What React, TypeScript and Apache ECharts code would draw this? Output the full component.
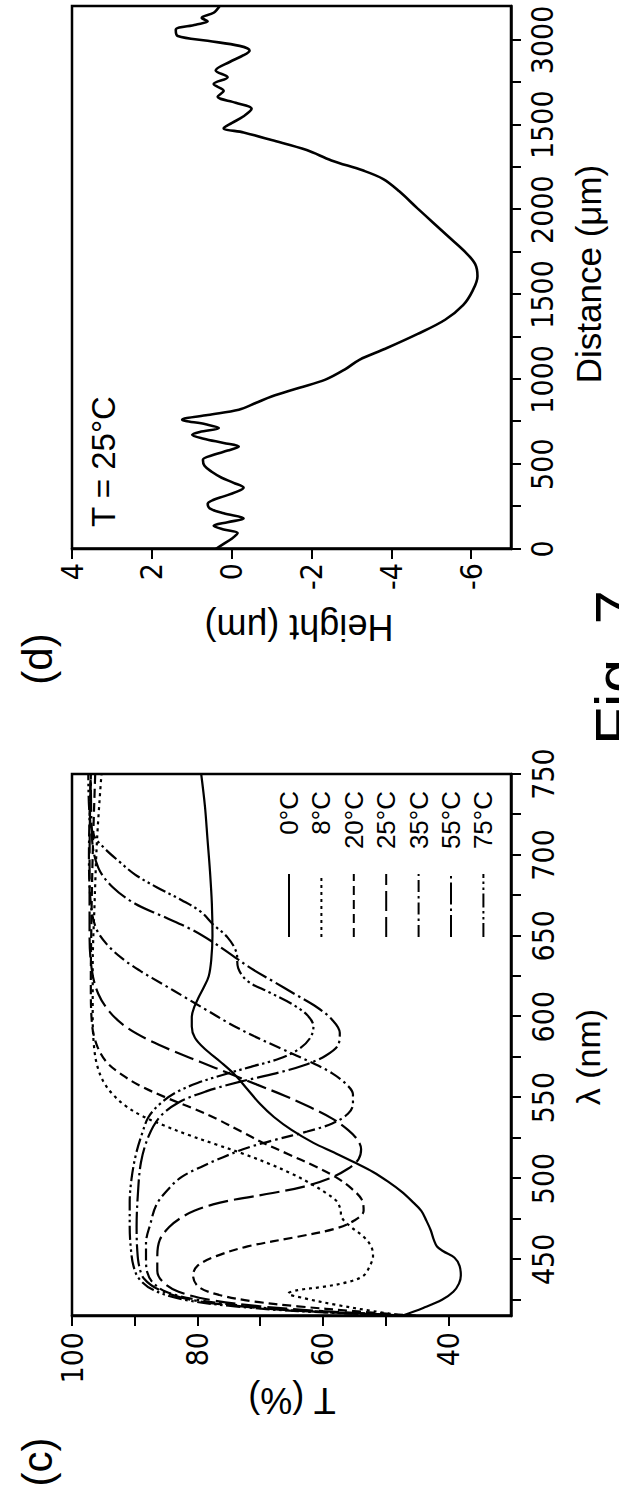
import React, { useEffect, useRef } from "react";
import * as echarts from "echarts";

// ---------- Panel (c): transmission spectra ----------
const legendNames = ["0°C", "8°C", "20°C", "25°C", "35°C", "55°C", "75°C"];

const wl0 = [415, 420, 425, 430, 435, 440, 446, 451, 455, 458, 462, 468, 474, 480, 486, 492, 498, 504, 510, 516, 522, 530, 538, 546, 555, 564, 572, 580, 587, 594, 600, 606, 612, 618, 625, 635, 650, 670, 690, 710, 730, 750];
const t0 = [47.5, 44, 41, 39.2, 38.3, 38, 38.2, 39, 40.8, 41.8, 42.3, 42.8, 43.5, 44.3, 45.8, 47.5, 49.6, 52, 55, 58.2, 61.5, 65, 67.8, 70, 72, 74, 76.3, 78.8, 80.4, 80.9, 80.9, 80.5, 79.8, 79, 78.2, 77.8, 77.6, 77.7, 78, 78.4, 78.8, 79.4];

const wl8 = [415, 418, 422, 426, 429, 431, 433, 436, 440, 446, 452, 458, 464, 470, 476, 481, 486, 491, 497, 503, 509, 515, 521, 527, 533, 539, 545, 552, 560, 570, 582, 600, 630, 670, 710, 750];
const t8 = [47, 52, 58, 63, 65.5, 64, 60, 56, 53.5, 52.5, 52, 52.3, 53.5, 55.5, 57, 57.2, 57.8, 59.5, 62, 65, 68.5, 72.5, 77, 81.5, 85.5, 89, 91.5, 93.5, 95, 96, 96.5, 96.7, 96.7, 96.4, 96, 95.3];

const wl20 = [415, 418, 421, 424, 428, 433, 440, 446, 452, 458, 464, 469, 474, 480, 487, 494, 501, 508, 515, 522, 529, 536, 543, 550, 557, 564, 572, 582, 595, 620, 660, 700, 750];
const t20 = [45, 55, 64, 71, 76.5, 79.8, 80.7, 80, 77, 72, 64, 58, 55, 53.5, 53.8, 55.5, 58, 61.5, 65.5, 69.5, 73, 76.5, 80.5, 85, 89, 92, 94.5, 96, 96.8, 97, 96.9, 96.7, 96.3];

const wl25 = [415, 418, 421, 425, 430, 436, 443, 452, 462, 470, 476, 480, 484, 487, 491, 495, 500, 506, 512, 518, 524, 530, 537, 544, 551, 558, 565, 572, 579, 586, 594, 603, 614, 628, 650, 700, 750];
const t25 = [45, 60, 70, 78, 83, 85.5, 86.4, 86.4, 86, 84.5, 82.5, 80.5, 77.5, 74, 68, 63, 59, 56, 54.3, 53.9, 54.5, 56, 58.5, 62, 66, 70.5, 75, 79.5, 84, 88, 91.5, 94, 95.8, 96.8, 97.2, 97.2, 97];

const wl35 = [415, 418, 421, 425, 430, 436, 442, 450, 460, 472, 484, 494, 501, 507, 513, 519, 524, 529, 534, 540, 546, 552, 558, 565, 572, 580, 588, 596, 604, 612, 620, 628, 636, 645, 655, 670, 700, 750];
const t35 = [45, 62, 72, 80, 85, 87.2, 88, 88.2, 88.2, 87.5, 86.5, 84.5, 82.5, 79.5, 76, 72, 67.5, 62.5, 58.5, 56, 55.2, 55.2, 56.2, 58.5, 62, 66.5, 71, 75, 78.5, 82, 85.5, 89, 92, 94.5, 96.2, 97, 97.3, 97];

const wl55 = [415, 418, 421, 425, 431, 438, 446, 456, 470, 490, 510, 526, 538, 547, 554, 560, 565, 570, 576, 583, 590, 598, 606, 614, 622, 630, 638, 646, 654, 662, 670, 680, 692, 710, 750];
const t55 = [45, 63, 73, 81, 86, 88.5, 89.3, 89.6, 89.7, 89.5, 89, 87.8, 86, 83, 78.5, 73, 67.5, 63, 59.5, 57.5, 57.3, 58.5, 61, 64.5, 68, 71.5, 74.5, 77.5, 81, 85.5, 90, 93.5, 95.8, 96.8, 97];

const wl75 = [415, 418, 421, 425, 431, 438, 446, 456, 470, 485, 500, 515, 528, 538, 546, 553, 559, 564, 569, 574, 580, 587, 594, 601, 608, 615, 622, 630, 640, 649, 657, 665, 672, 680, 688, 696, 704, 712, 725, 750];
const t75 = [45, 64, 74, 82, 87, 89.3, 90.2, 90.6, 90.8, 90.8, 90.5, 89.8, 88.8, 87.8, 86, 83.5, 80, 76, 71.5, 67, 63.8, 62, 61.5, 62.5, 65, 68.5, 72, 73.5, 73.8, 75.2, 77.5, 79.5, 82.5, 86.5, 90, 92.5, 94.8, 96.5, 97.2, 97.4];

const lambdaTicks = [425, 450, 475, 500, 525, 550, 575, 600, 625, 650, 675, 700, 725, 750];
const lambdaLabels = [450, 500, 550, 600, 650, 700, 750];
const tTicks = [40, 50, 60, 70, 80, 90, 100];
const tLabels = [40, 60, 80, 100];

// ---------- Panel (d): height profile ----------
const distance = [0, 30, 60, 94, 115, 137, 158, 180, 210, 240, 266, 290, 310, 335, 361, 390, 420, 455, 490, 526, 555, 580, 604, 625, 650, 673, 690, 713, 735, 762, 790, 821, 860, 899, 950, 998, 1060, 1115, 1180, 1266, 1351, 1437, 1523, 1608, 1680, 1751, 1837, 1923, 2009, 2108, 2180, 2230, 2290, 2351, 2410, 2455, 2480, 2510, 2550, 2594, 2630, 2666, 2700, 2740, 2780, 2820, 2870, 2910, 2937, 2965, 2995, 3023, 3060, 3090, 3110, 3130, 3160, 3200];
const height = [0.4, 0.2, 0.0, -0.15, 0.2, 0.45, 0.1, -0.3, 0.2, 0.55, 0.6, 0.45, 0.2, -0.1, -0.3, -0.05, 0.25, 0.5, 0.68, 0.72, 0.45, 0.1, -0.18, 0.2, 0.7, 0.99, 0.8, 0.32, 0.65, 1.24, 0.6, -0.18, -0.6, -1.0, -1.7, -2.35, -2.85, -3.2, -3.85, -4.65, -5.35, -5.8, -6.04, -6.16, -6.1, -5.85, -5.45, -5.05, -4.65, -4.2, -3.8, -3.3, -2.5, -1.88, -1.0, -0.3, 0.2, 0.0, -0.3, -0.5, -0.1, 0.35, 0.2, 0.45, 0.1, 0.4, 0.05, -0.3, -0.45, -0.2, 0.6, 1.35, 1.4, 0.9, 0.6, 0.75, 0.45, 0.3];

const distTicks = [0, 250, 500, 750, 1000, 1250, 1500, 1750, 2000, 2250, 2500, 2750, 3000];
const distLabelValues = [0, 500, 1000, 1500, 2000, 2500, 3000];
const distLabelTexts = ["0", "500", "1000", "1500", "2000", "1500", "3000"];
const heightTicks = [-6, -4, -2, 0, 2, 4];

const mainFont = "'Liberation Sans', Arial, Helvetica, sans-serif";
const tickFont = "'Liberation Sans Narrow', 'Arial Narrow', 'DejaVu Sans Condensed', 'Liberation Sans', sans-serif";

const zip = (xs: number[], ys: number[]) => xs.map((x, i) => [x, ys[i]]);

const spectra = [
  { x: wl0, y: t0, dash: "solid" as any },
  { x: wl8, y: t8, dash: [3, 4] },
  { x: wl20, y: t20, dash: [9, 5] },
  { x: wl25, y: t25, dash: [20, 6] },
  { x: wl35, y: t35, dash: [12, 4, 2.5, 4] },
  { x: wl55, y: t55, dash: [22, 4, 2.5, 4] },
  { x: wl75, y: t75, dash: [14, 3.5, 2.5, 3.5, 2.5, 3.5] },
];

function buildOption() {
  const axisLine = { show: true, onZero: false, lineStyle: { color: "#000", width: 2.5 } };
  const tickStyle = { color: "#000", width: 2 };
  const labelBase = { color: "#000", fontSize: 30, fontFamily: tickFont };

  return {
    animation: false,
    backgroundColor: "#ffffff",
    grid: [
      { left: 181, top: 72, width: 542, height: 439, show: true, borderColor: "#000", borderWidth: 2.5, backgroundColor: "transparent" },
      { left: 948, top: 72, width: 543, height: 439, show: true, borderColor: "#000", borderWidth: 2.5, backgroundColor: "transparent" },
    ],
    xAxis: [
      {
        gridIndex: 0, type: "value", min: 415, max: 750,
        axisLine, splitLine: { show: false },
        axisTick: { show: true, inside: false, length: 10, lineStyle: tickStyle, customValues: lambdaTicks },
        axisLabel: { ...labelBase, margin: 17, customValues: lambdaLabels },
      },
      {
        gridIndex: 1, type: "value", min: 0, max: 3200,
        axisLine, splitLine: { show: false },
        axisTick: { show: true, inside: false, length: 10, lineStyle: tickStyle, customValues: distTicks },
        axisLabel: {
          ...labelBase, margin: 16, customValues: distLabelValues,
          formatter: (v: number) => {
            const i = distLabelValues.indexOf(v);
            return i >= 0 ? distLabelTexts[i] : "";
          },
        },
      },
    ],
    yAxis: [
      {
        gridIndex: 0, type: "value", min: 30, max: 100,
        axisLine, splitLine: { show: false },
        axisTick: { show: true, inside: false, length: 10, lineStyle: tickStyle, customValues: tTicks },
        axisLabel: { ...labelBase, margin: 16, customValues: tLabels },
      },
      {
        gridIndex: 1, type: "value", min: -7, max: 4,
        axisLine, splitLine: { show: false },
        axisTick: { show: true, inside: false, length: 10, lineStyle: tickStyle, customValues: heightTicks },
        axisLabel: { ...labelBase, margin: 14, customValues: heightTicks },
      },
    ],
    legend: {
      orient: "vertical",
      left: 554,
      top: 271,
      itemWidth: 63,
      itemHeight: 14,
      itemGap: 6.4,
      selectedMode: false,
      data: legendNames,
      itemStyle: { color: "rgba(0,0,0,0)", borderColor: "rgba(0,0,0,0)", borderWidth: 0, opacity: 0 },
      formatter: (name: string) => `{a|${name}}`,
      textStyle: {
        color: "#000",
        fontSize: 26,
        lineHeight: 22,
        fontFamily: mainFont,
        rich: { a: { width: 78, align: "right", fontSize: 26, lineHeight: 22, fontFamily: mainFont, color: "#000" } },
      },
    },
    series: [
      ...spectra.map((s, i) => ({
        type: "line",
        name: legendNames[i],
        xAxisIndex: 0,
        yAxisIndex: 0,
        data: zip(s.x, s.y),
        symbol: "none",
        smooth: 0.35,
        lineStyle: { color: "#000", width: 2.2, type: s.dash },
        itemStyle: { color: "#000" },
      })),
      {
        type: "line",
        name: "profile",
        xAxisIndex: 1,
        yAxisIndex: 1,
        data: zip(distance, height),
        symbol: "none",
        smooth: 0.35,
        lineStyle: { color: "#000", width: 2.6 },
        itemStyle: { color: "#000" },
      },
    ],
    graphic: [
      { type: "text", x: 35, y: 37, style: { text: "(c)", fontSize: 42, fontFamily: mainFont, fill: "#000", align: "center", verticalAlign: "middle" } },
      { type: "text", x: 838, y: 37, style: { text: "(d)", fontSize: 42, fontFamily: mainFont, fill: "#000", align: "center", verticalAlign: "middle" } },
      { type: "text", x: 97, y: 292, rotation: Math.PI / 2, style: { text: "T (%)", fontSize: 36, fontFamily: mainFont, fill: "#000", align: "center", verticalAlign: "middle" } },
      { type: "text", x: 440, y: 588, style: { text: "λ (nm)", fontSize: 34, fontFamily: mainFont, fill: "#000", align: "center", verticalAlign: "middle" } },
      { type: "text", x: 870, y: 299, rotation: Math.PI / 2, style: { text: "Height (μm)", fontSize: 36, fontFamily: mainFont, fill: "#000", align: "center", verticalAlign: "middle" } },
      { type: "text", x: 1223, y: 588, style: { text: "Distance (μm)", fontSize: 35, fontFamily: mainFont, fill: "#000", align: "center", verticalAlign: "middle" } },
      { type: "text", x: 970, y: 103, style: { text: "T = 25°C", fontSize: 33, fontFamily: mainFont, fill: "#000", align: "left", verticalAlign: "middle" } },
      { type: "text", x: 752, y: 585, style: { text: "Fig. 7", fontSize: 62, fontFamily: mainFont, fill: "#000", align: "left", verticalAlign: "top" } },
    ],
  };
}

export default function App() {
  const ref = useRef<HTMLDivElement>(null);
  useEffect(() => {
    if (!ref.current) return;
    const chart = echarts.init(ref.current, null, { renderer: "svg" });
    chart.setOption(buildOption() as any);
    return () => chart.dispose();
  }, []);
  return (
    <div style={{ position: "fixed", left: 0, top: 0, width: 619, height: 1497, overflow: "hidden", background: "#fff" }}>
      <div
        ref={ref}
        style={{
          position: "absolute",
          left: 0,
          top: 0,
          width: 1497,
          height: 619,
          transformOrigin: "0 0",
          transform: "translateY(1497px) rotate(-90deg)",
        }}
      />
    </div>
  );
}
